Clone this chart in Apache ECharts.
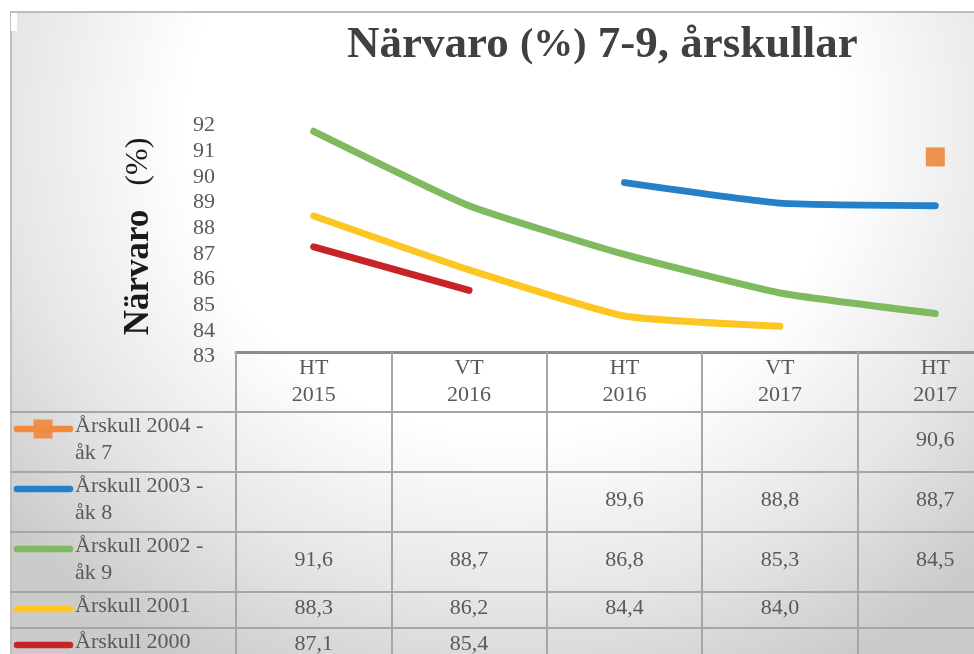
<!DOCTYPE html>
<html>
<head>
<meta charset="utf-8">
<script src="https://cdn.jsdelivr.net/npm/echarts@6/dist/echarts.min.js"></script>
<style>
  html, body { margin: 0; background: #fff; overflow: hidden; width: 974px; height: 654px; }
  #bg {
    position: absolute; left: 10px; top: 11px; width: 964px; height: 643px;
    border-top: 2px solid #bdbdbd; border-left: 2px solid #bfbfbf;
    background: radial-gradient(ellipse 68% 95% at 52% 18%, #ffffff 0%, #ffffff 50%, #e6e6e6 77%, #cbcbcb 100%);
  }
  #nub { position: absolute; left: 11px; top: 13px; width: 6px; height: 18px; background: #fff; }
  /* the plot runs past the right edge of the picture, as in the original */
  #chart { position: absolute; left: 0; top: 0; width: 1040px; height: 654px; }
</style>
</head>
<body>
<div id="bg"></div>
<div id="nub"></div>
<div id="chart"></div>
<script>
// periods (x axis / table header)
const categories = ['HT\n2015', 'VT\n2016', 'HT\n2016', 'VT\n2017', 'HT\n2017'];
const yTicks = { min: 83, max: 92, step: 1 };

// närvaro per årskull
const ak7_2004 = [null, null, null, null, 90.6];
const ak8_2003 = [null, null, 89.6, 88.8, 88.7];
const ak9_2002 = [91.6, 88.7, 86.8, 85.3, 84.5];
const kull2001 = [88.3, 86.2, 84.4, 84.0, null];
const kull2000 = [87.1, 85.4, null, null, null];

const rows = [
  { name: 'Årskull 2004 -\nåk 7', data: ak7_2004, color: '#ef8a3f', marker: true },
  { name: 'Årskull 2003 -\nåk 8', data: ak8_2003, color: '#2480c8' },
  { name: 'Årskull 2002 -\nåk 9', data: ak9_2002, color: '#7fb960' },
  { name: 'Årskull 2001', data: kull2001, color: '#fdc723' },
  { name: 'Årskull 2000', data: kull2000, color: '#c82428' }
];

const FONT = '"Liberation Serif", "DejaVu Serif", serif';
const TXT = '#595959';
const headerHeight = 60;
const rowHeights = [60, 60, 60, 36, 36];

const fmt = v => v.toFixed(1).replace('.', ',');

function renderRow(params, api) {
  const r = api.value(2);
  const s = rows[r];
  let top = api.coord([0, yTicks.min])[1] + headerHeight;
  for (let i = 0; i < r; i++) top += rowHeights[i];
  const h = rowHeights[r];
  const children = [
    { type: 'line', shape: { x1: 10, y1: top, x2: api.getWidth(), y2: top },
      style: { stroke: '#a6a6a6', lineWidth: 2 } },
    { type: 'line', shape: { x1: 17, y1: top + 17, x2: 70, y2: top + 17 },
      style: { stroke: s.color, lineWidth: 6.5, lineCap: 'round' } },
    { type: 'text', style: { text: s.name, x: 75, y: top + 1, fontSize: 22, fontFamily: FONT,
      fill: TXT, lineHeight: 27, align: 'left', verticalAlign: 'top' } }
  ];
  if (s.marker) {
    children.push({ type: 'rect', shape: { x: 33.5, y: top + 7.5, width: 19, height: 19 },
      style: { fill: s.color, opacity: 0.92 } });
  }
  s.data.forEach((v, c) => {
    if (v == null) return;
    children.push({ type: 'text', style: { text: fmt(v), x: api.coord([c, yTicks.min])[0],
      y: top + h / 2 - 2, fontSize: 22, fontFamily: FONT, fill: TXT,
      align: 'center', verticalAlign: 'middle' } });
  });
  return { type: 'group', children };
}

const chart = echarts.init(document.getElementById('chart'));

const lineSeries = rows.map(s => ({
  type: 'line',
  name: s.name,
  data: s.data,
  smooth: 0.15,
  symbol: s.marker ? 'rect' : 'none',
  symbolSize: 19,
  showSymbol: !!s.marker,
  itemStyle: { color: s.color, opacity: 0.92 },
  lineStyle: { color: s.color, width: 7, cap: 'round', join: 'round' },
  emphasis: { disabled: true },
  silent: true
}));

chart.setOption({
  animation: false,
  backgroundColor: 'transparent',
  title: {
    text: '{b|Närvaro }{n|(%)}{b| 7-9, årskullar}',
    left: 342,
    top: 18,
    textStyle: {
      rich: {
        b: { fontFamily: FONT, fontSize: 45, fontWeight: 'bold', color: '#404040' },
        n: { fontFamily: FONT, fontSize: 40, color: '#404040' }
      }
    }
  },
  grid: { left: 236, top: 121, height: 231, right: 27, containLabel: false },
  xAxis: {
    type: 'category',
    data: categories,
    boundaryGap: true,
    axisLine: { lineStyle: { color: '#8c8c8c', width: 3 } },
    axisTick: { show: true, interval: 0, length: 302, lineStyle: { color: '#a6a6a6', width: 2 } },
    axisLabel: { interval: 0, color: TXT, fontSize: 22, fontFamily: FONT, lineHeight: 27, margin: 3 },
    splitLine: { show: false }
  },
  yAxis: {
    type: 'value',
    min: yTicks.min,
    max: yTicks.max,
    interval: yTicks.step,
    axisLine: { show: false },
    axisTick: { show: false },
    splitLine: { show: false },
    axisLabel: { color: TXT, fontSize: 22, fontFamily: FONT, margin: 21, verticalAlign: 'top', lineHeight: 9 },
    name: '{b|Närvaro}{n|   (%)}',
    nameLocation: 'middle',
    nameRotate: 90,
    nameGap: 80,
    nameTextStyle: {
      rich: {
        b: { fontFamily: FONT, fontSize: 35, fontWeight: 'bold', color: '#1a1a1a' },
        n: { fontFamily: FONT, fontSize: 32, color: '#1a1a1a' }
      }
    }
  },
  series: lineSeries.concat([{
    type: 'custom',
    name: 'table',
    clip: false,
    silent: true,
    renderItem: renderRow,
    data: rows.map((s, r) => [0, yTicks.min, r]),
    z: 1
  }])
});

window.addEventListener('resize', chart.resize);
</script>
</body>
</html>
